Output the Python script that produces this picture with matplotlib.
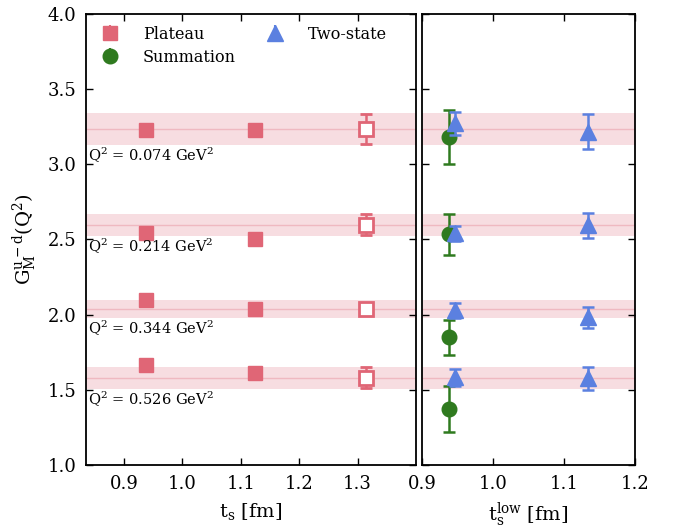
import matplotlib
matplotlib.use("Agg")
import matplotlib.pyplot as plt
import numpy as np

plt.rcParams['font.family'] = ['DejaVu Serif']
plt.rcParams['mathtext.fontset'] = 'dejavuserif'

# ---- data ----
q2_labels = ["0.074", "0.214", "0.344", "0.526"]
band_center = [3.235, 2.598, 2.037, 1.580]
band_err = [0.106, 0.073, 0.062, 0.073]

plateau_ts = [0.9375, 1.125, 1.314]
plateau_vals = [[3.228, 3.228, 3.235],
                [2.543, 2.503, 2.598],
                [2.097, 2.040, 2.035],
                [1.663, 1.609, 1.580]]
plateau_errs = [[0.02, 0.03, 0.10],
                [0.02, 0.02, 0.07],
                [0.02, 0.02, 0.04],
                [0.02, 0.02, 0.07]]

summ_t = 0.938
summ_vals = [3.182, 2.534, 1.849, 1.372]
summ_errs = [0.18, 0.134, 0.115, 0.155]

two_t = [0.947, 1.134]
two_vals = [[3.273, 3.217], [2.541, 2.596], [2.030, 1.982], [1.583, 1.576]]
two_errs = [[0.075, 0.115], [0.05, 0.083], [0.05, 0.07], [0.055, 0.075]]

c_plat = '#e06676'
c_sum = '#2f7a1f'
c_two = '#5b80e0'
c_band = '#f7dde1'
c_line = '#efb9c1'

fig = plt.figure(figsize=(6.73, 5.29), dpi=100)
ax1 = fig.add_axes([0.1278, 0.121, 0.4903, 0.8526])
ax2 = fig.add_axes([0.627, 0.121, 0.3165, 0.8526])

for ax in (ax1, ax2):
    for c, e in zip(band_center, band_err):
        ax.axhspan(c - e, c + e, color=c_band, lw=0, zorder=0)
        ax.axhline(c, color=c_line, lw=1.0, zorder=0.5)

ms = 10.5
for i in range(4):
    ax1.errorbar(plateau_ts[:2], plateau_vals[i][:2], yerr=plateau_errs[i][:2],
                 fmt='s', color=c_plat, ms=ms, capsize=4, elinewidth=1.8,
                 capthick=1.8, mec=c_plat, zorder=3)
    ax1.errorbar([plateau_ts[2]], [plateau_vals[i][2]], yerr=[plateau_errs[i][2]],
                 fmt='s', color=c_plat, mfc='white', mec=c_plat, mew=2.0,
                 ms=ms - 1, capsize=4, elinewidth=1.8, capthick=1.8, zorder=3)
    ax1.text(0.838, band_center[i] - band_err[i] - 0.005,
             r'$\mathrm{Q^2}$ = ' + q2_labels[i] + r' $\mathrm{GeV^2}$',
             fontsize=10.5, va='top', ha='left', zorder=4)

    ax2.errorbar([summ_t], [summ_vals[i]], yerr=[summ_errs[i]], fmt='o',
                 color=c_sum, ms=ms, capsize=4, elinewidth=1.8, capthick=1.8,
                 zorder=3)
    ax2.errorbar(two_t, two_vals[i], yerr=two_errs[i], fmt='^', color=c_two,
                 ms=ms + 1, capsize=4, elinewidth=1.8, capthick=1.8, zorder=4)

# legend handles
h_p = ax1.errorbar([], [], yerr=[], fmt='s', color=c_plat, ms=ms, capsize=4)
h_s = ax1.errorbar([], [], yerr=[], fmt='o', color=c_sum, ms=ms, capsize=4)
h_t = ax1.errorbar([], [], yerr=[], fmt='^', color=c_two, ms=ms + 1, capsize=4)
ax1.legend([h_p, h_s, h_t], ['Plateau', 'Summation', 'Two-state'], ncol=2,
           loc='upper left', frameon=False, fontsize=11.5, handletextpad=1.3,
           columnspacing=1.7, borderaxespad=0.35, handlelength=1.5,
           labelspacing=0.35, bbox_to_anchor=(0.0, 1.0))

ax1.set_xlim(0.835, 1.4)
ax1.set_xticks([0.9, 1.0, 1.1, 1.2, 1.3])
ax2.set_xlim(0.9, 1.2)
ax2.set_xticks([0.9, 1.0, 1.1, 1.2])
for ax in (ax1, ax2):
    ax.set_ylim(1.0, 4.0)
    ax.set_yticks([1.0, 1.5, 2.0, 2.5, 3.0, 3.5, 4.0])
    ax.tick_params(direction='in', top=True, right=True, length=5, width=1,
                   labelsize=13, pad=7)
    for sp in ax.spines.values():
        sp.set_linewidth(1.3)
ax2.tick_params(labelleft=False)

ax1.set_xlabel(r'$\mathrm{t_s}$ [fm]', fontsize=14, labelpad=6)
ax2.set_xlabel(r'$\mathrm{t_s^{low}}$ [fm]', fontsize=14, labelpad=6)
ax1.set_ylabel(r'$\mathrm{G_M^{u-d}(Q^2)}$', fontsize=14, labelpad=6)

fig.savefig('out.png', dpi=100)
